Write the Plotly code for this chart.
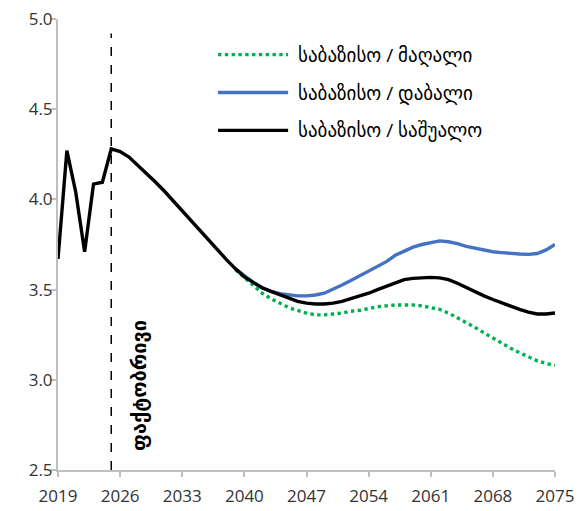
import plotly.graph_objects as go

# -----------------------------
# Data
# -----------------------------
years = list(range(2019, 2076))

# საბაზისო / საშუალო : actuals 2019-2025, then projection
base_mid = [
    3.67, 4.27, 4.04, 3.71, 4.085, 4.095, 4.28,          # 2019-2025
    4.265, 4.235, 4.19, 4.14, 4.095, 4.045, 3.99, 3.935,  # 2026-2033
    3.885, 3.83, 3.775, 3.72, 3.665, 3.615, 3.57,        # 2034-2040
    3.54, 3.51, 3.49, 3.47, 3.45, 3.435, 3.425,          # 2041-2047
    3.42, 3.42, 3.425, 3.435, 3.45, 3.465, 3.48,         # 2048-2054
    3.5, 3.52, 3.54, 3.555, 3.562, 3.566, 3.568,         # 2055-2061
    3.565, 3.555, 3.535, 3.51, 3.485, 3.465, 3.445,      # 2062-2068
    3.425, 3.41, 3.39, 3.375, 3.365, 3.365, 3.37,        # 2069-2075
]

scen_years = list(range(2039, 2076))

# საბაზისო / დაბალი
base_low = [
    3.615, 3.575, 3.54, 3.51, 3.49, 3.478, 3.47,         # 2039-2045
    3.465, 3.465, 3.47, 3.48, 3.5, 3.525, 3.55,          # 2046-2052
    3.575, 3.6, 3.625, 3.655, 3.69, 3.715, 3.735,        # 2053-2059
    3.75, 3.76, 3.77, 3.765, 3.755, 3.74, 3.73,          # 2060-2066
    3.72, 3.71, 3.705, 3.7, 3.697, 3.695, 3.7,           # 2067-2073
    3.72, 3.75,                                          # 2074-2075
]

# საბაზისო / მაღალი
base_high = [
    3.61, 3.565, 3.52, 3.48, 3.45, 3.425, 3.4,           # 2039-2045
    3.385, 3.37, 3.36, 3.36, 3.365, 3.37, 3.38,          # 2046-2052
    3.385, 3.395, 3.405, 3.41, 3.415, 3.415, 3.415,      # 2053-2059
    3.41, 3.4, 3.39, 3.37, 3.345, 3.32, 3.29,            # 2060-2066
    3.26, 3.23, 3.2, 3.175, 3.15, 3.125, 3.105,          # 2067-2073
    3.09, 3.08,                                          # 2074-2075
]

forecast_start = 2025
x_ticks = list(range(2019, 2076, 7))

FONT = "Open Sans, DejaVu Sans, sans-serif"

series = [
    # (name, x, y, colour, dash)
    ('საბაზისო / მაღალი', scen_years, base_high, '#00b050', 'dot'),
    ('საბაზისო / დაბალი', scen_years, base_low, '#4472c4', 'solid'),
    ('საბაზისო / საშუალო', years, base_mid, 'black', 'solid'),
]

fig = go.Figure()

for name, xs, ys, colour, dash in series:
    fig.add_trace(go.Scatter(
        x=xs, y=ys, mode='lines', name=name, showlegend=False,
        line=dict(color=colour, width=3.4, dash=dash)
    ))

# hand-drawn legend (Excel style long line samples)
legend_rows = [0.921, 0.837, 0.753]
for (name, xs, ys, colour, dash), ly in zip(series, legend_rows):
    fig.add_shape(
        type='line', xref='paper', yref='paper',
        x0=0.322, x1=0.463, y0=ly, y1=ly,
        line=dict(color=colour, width=3.4, dash=dash)
    )
    fig.add_annotation(
        x=0.479, y=ly, xref='paper', yref='paper',
        xanchor='left', yanchor='middle', showarrow=False,
        text=name, font=dict(family=FONT, size=19, color='black')
    )

# vertical dashed line marking end of actuals
fig.add_shape(
    type='line', xref='x', yref='y',
    x0=forecast_start, x1=forecast_start, y0=2.5, y1=4.92,
    line=dict(color='black', width=1.5, dash='dash')
)

fig.add_annotation(
    x=forecast_start + 3.0, y=2.97, xref='x', yref='y',
    text='<b>ფაქტობრივი</b>', textangle=-90, showarrow=False,
    font=dict(family=FONT, size=20, color='black')
)

# page body has an 8px margin, so the figure is shrunk to fit the window
fig.update_layout(
    width=577, height=503,
    margin=dict(l=50, r=30, t=11, b=41),
    plot_bgcolor='white', paper_bgcolor='white',
    font=dict(family=FONT, size=17, color='#333333'),
    showlegend=False,
    xaxis=dict(
        range=[2019, 2075], tickvals=x_ticks, automargin=False,
        showgrid=False, zeroline=False,
        showline=True, linecolor='#bfbfbf', linewidth=2,
        ticks='outside', ticklen=5, tickcolor='#bfbfbf', tickwidth=2,
        ticklabelstandoff=5, ticklabeloverflow='allow',
        tickfont=dict(size=17, color='#333333')
    ),
    yaxis=dict(
        range=[2.5, 5.0], dtick=0.5, tickformat='.1f', automargin=False,
        showgrid=False, zeroline=False,
        showline=True, linecolor='#bfbfbf', linewidth=2,
        ticks='outside', ticklen=5, tickcolor='#bfbfbf', tickwidth=2,
        ticklabelstandoff=-5, ticklabeloverflow='allow',
        tickfont=dict(size=17, color='#333333')
    ),
)

fig.write_html("out.html")
